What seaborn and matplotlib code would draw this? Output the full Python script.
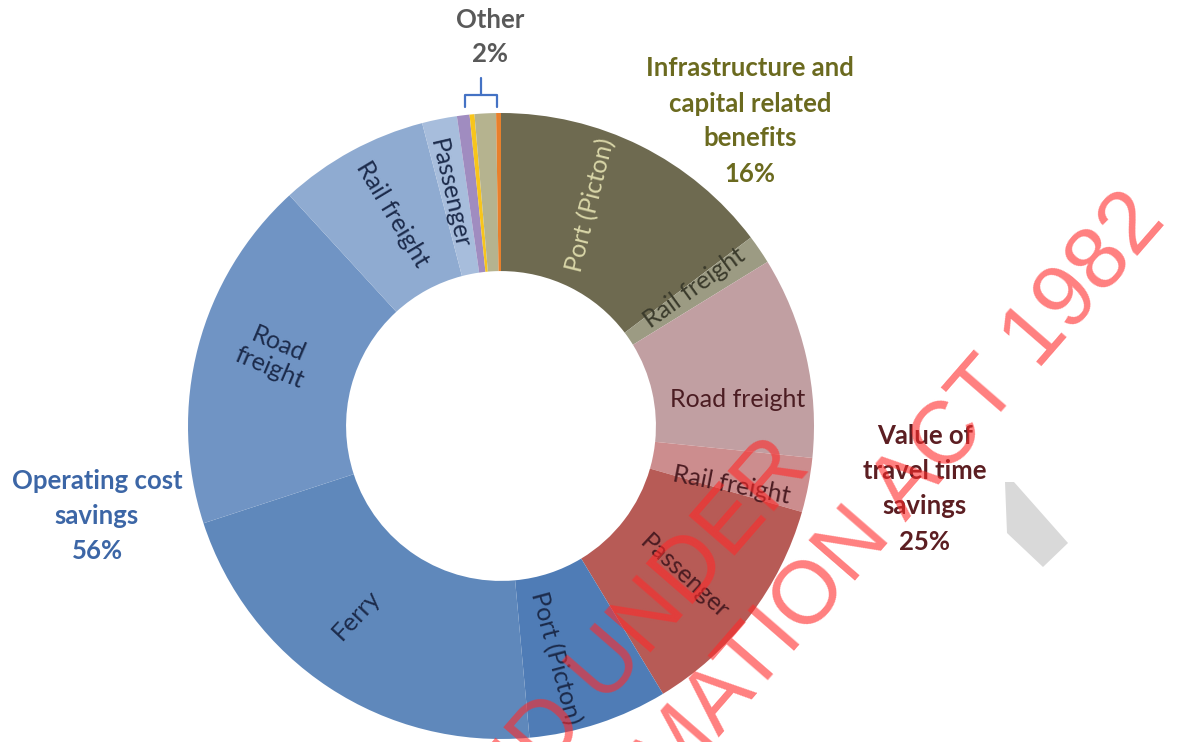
import numpy as np
import matplotlib
matplotlib.use("Agg")
import matplotlib.pyplot as plt
import seaborn as sns
from matplotlib.patches import Polygon
from matplotlib.lines import Line2D

# ---- data -------------------------------------------------------------
group_names = ["Infrastructure and\ncapital related\nbenefits",
               "Value of\ntravel time\nsavings",
               "Operating cost\nsavings",
               "Other"]
group_pct = [16, 25, 56, 2]

segment_labels = ["Port (Picton)", "Rail freight",
                  "Road freight", "Rail freight", "Passenger",
                  "Port (Picton)", "Ferry", "Road\nfreight", "Rail freight", "Passenger",
                  "", "", "", ""]
segment_group = [0, 0, 1, 1, 1, 2, 2, 2, 2, 2, 3, 3, 3, 3]
segment_share = [14.7, 1.5,
                 10.4, 2.8, 11.9,
                 7.2, 21.4, 18.2, 7.75, 1.8,
                 0.65, 0.25, 1.1, 0.25]

# ---- styling ----------------------------------------------------------
sns.set_theme(style="white")
plt.rcParams["font.family"] = ["Lato", "DejaVu Sans"]

segment_colors = ["#6e6a50", "#9c9b83",
                  "#c19fa2", "#cc8d8e", "#b75b56",
                  "#4f7cb6", "#5f88bb", "#7094c4", "#8fabd1", "#a7bddc",
                  "#a08cc0", "#f7c51c", "#b5b38f", "#e8802c"]
text_colors = ["#d9d6a8", "#3b3b2c",
               "#4b1c22", "#4b1c22", "#4b1c22",
               "#1c2b4b", "#1c2b4b", "#1c2b4b", "#1c2b4b", "#1c2b4b",
               "k", "k", "k", "k"]
text_rot = [76, 36, 0, -11, -43, -75, 47, -23, -59, -77, 0, 0, 0, 0]
text_shift = [4.5, 1.2, -6.5, -3.5, -2.0, -5.0, -4.0, -2.5, -1.3, 1.2, 0, 0, 0, 0]
group_colors = ["#6b6a1f", "#5c1e22", "#3c66a6", "#595959"]

W, H, DPI = 1184, 742, 100
CX, CY, R = 501, 426, 313  # pie centre and radius in pixels


def px(x, y):
    """pixel position -> data coordinates of the pie axes"""
    return (x - CX) / R, (CY - y) / R


fig = plt.figure(figsize=(W / DPI, H / DPI), dpi=DPI)
fig.patch.set_facecolor("white")
ax = fig.add_axes([0, 0, 1, 1])

wedges, _ = ax.pie(segment_share, colors=segment_colors, radius=1.0,
                   startangle=90, counterclock=False,
                   wedgeprops=dict(width=0.505, edgecolor="none", linewidth=0))
ax.set_aspect("auto")
ax.set_xlim(-CX / R, (W - CX) / R)
ax.set_ylim(-(H - CY) / R, CY / R)
ax.axis("off")

# segment names inside the ring
for w, lab, col, rot, sh in zip(wedges, segment_labels, text_colors, text_rot, text_shift):
    if not lab:
        continue
    mid = np.deg2rad((w.theta1 + w.theta2) / 2 + sh)
    r = 0.76
    ax.text(r * np.cos(mid), r * np.sin(mid), lab, color=col, fontsize=18,
            rotation=rot, rotation_mode="anchor", ha="center", va="center",
            linespacing=1.1)

# group headings
group_pos = [px(750, 121), px(925, 489), px(97, 516), px(490, 37)]
for (gx, gy), name, pct, col in zip(group_pos, group_names, group_pct, group_colors):
    ax.text(gx, gy, f"{name}\n{pct}%", color=col, fontsize=18.5, fontweight="bold",
            ha="center", va="center", linespacing=1.55)

# bracket over the small "Other" wedges
other = [w for w, g in zip(wedges, segment_group) if g == 3]
a0 = np.deg2rad(other[0].theta2)
a1 = np.deg2rad(other[-1].theta1)
xl = np.cos(a0) * 1.0 + 0.025
xr = np.cos(a1) * 1.0 - 0.012
yb, yt, ytick = px(0, 107)[1], px(0, 95)[1], px(0, 78)[1]
xm = (xl + xr) / 2
bracket = dict(color="#4472c4", lw=1.6, solid_capstyle="round", solid_joinstyle="round")
ax.add_line(Line2D([xl, xl, xr, xr], [yb, yt, yt, yb], **bracket))
ax.add_line(Line2D([xm, xm], [yt, ytick], **bracket))

# faint grey smudge on the page
fig.patches.append(Polygon([(1005 / W, 1 - 482 / H), (1014 / W, 1 - 482 / H),
                            (1068 / W, 1 - 543 / H), (1043 / W, 1 - 567 / H),
                            (1007 / W, 1 - 533 / H)],
                           closed=True, transform=fig.transFigure,
                           facecolor="#d9d9d9", edgecolor="none", zorder=0.5))

# release stamp
stamp = dict(color="#ff2a2a", alpha=0.6, fontsize=64, rotation=49,
             rotation_mode="anchor", ha="right", va="baseline",
             family=["Liberation Sans", "DejaVu Sans"], transform=fig.transFigure)
fig.text(812 / W, 1 - 468 / H, "RELEASED UNDER", **stamp)
fig.text(1168 / W, 1 - 222 / H, "THE OFFICIAL INFORMATION ACT 1982", **stamp)

fig.savefig("out.png", dpi=DPI, facecolor="white")
